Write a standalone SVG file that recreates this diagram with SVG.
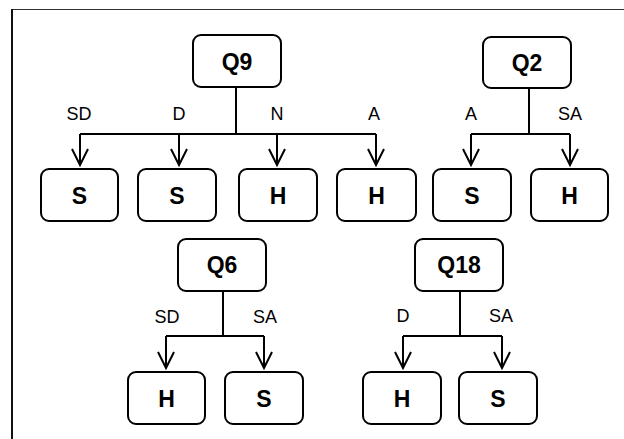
<svg xmlns="http://www.w3.org/2000/svg" width="624" height="439" viewBox="0 0 624 439">
<style>
.box{fill:#fff;stroke:#000;stroke-width:2}
.nt{font-family:"Liberation Sans",Arial,sans-serif;font-weight:bold;font-size:23px;text-anchor:middle}
.lb{font-family:"Liberation Sans",Arial,sans-serif;font-size:18px;text-anchor:middle}
.ln{fill:none;stroke:#000;stroke-width:2}
</style>
<defs>
<path id="ah" d="M-8,-16 L0,0 L8,-16" fill="none" stroke="#000" stroke-width="2"/>
</defs>
<rect width="624" height="439" fill="#fff"/>
<line x1="12" y1="9.5" x2="624" y2="9.5" stroke="#333" stroke-width="1.2"/>
<line x1="12" y1="9" x2="12" y2="439" stroke="#111" stroke-width="2"/>
<g id="connectors">
<path class="ln" d="M236,87 V134 M80,134 H376 M80,134 V165 M179,134 V165 M277,134 V165 M376,134 V165"/>
<use href="#ah" x="80" y="165"/><use href="#ah" x="179" y="165"/><use href="#ah" x="277" y="165"/><use href="#ah" x="376" y="165"/>
<path class="ln" d="M529,88 V134 M471,134 H570 M471,134 V165 M570,134 V165"/>
<use href="#ah" x="471" y="165"/><use href="#ah" x="570" y="165"/>
<path class="ln" d="M223,291 V336 M166,336 H264 M166,336 V368 M264,336 V368"/>
<use href="#ah" x="166" y="368"/><use href="#ah" x="264" y="368"/>
<path class="ln" d="M460,291 V336 M403,336 H502 M403,336 V368 M502,336 V368"/>
<use href="#ah" x="403" y="368"/><use href="#ah" x="502" y="368"/>
<text class="lb" x="79" y="120">SD</text>
<text class="lb" x="179" y="120">D</text>
<text class="lb" x="277" y="120">N</text>
<text class="lb" x="374" y="120">A</text>
<text class="lb" x="471" y="120">A</text>
<text class="lb" x="570" y="120">SA</text>
<text class="lb" x="167" y="323">SD</text>
<text class="lb" x="265" y="323">SA</text>
<text class="lb" x="403" y="322">D</text>
<text class="lb" x="501" y="322">SA</text>
</g>
<g id="Q9"><rect class="box" x="193" y="35" width="88" height="52" rx="8"/><text class="nt" x="237" y="69.5">Q9</text></g>
<g id="Q2"><rect class="box" x="483" y="37" width="88" height="51" rx="8"/><text class="nt" x="527" y="71">Q2</text></g>
<g id="Q6"><rect class="box" x="178" y="239" width="88" height="52" rx="8"/><text class="nt" x="222" y="273">Q6</text></g>
<g id="Q18"><rect class="box" x="415" y="239" width="88" height="52" rx="8"/><text class="nt" x="459" y="273">Q18</text></g>
<g id="L1"><rect class="box" x="41" y="169" width="77" height="52" rx="8"/><text class="nt" x="79.5" y="203.5">S</text></g>
<g id="L2"><rect class="box" x="138" y="169" width="78" height="52" rx="8"/><text class="nt" x="177" y="203.5">S</text></g>
<g id="L3"><rect class="box" x="239" y="169" width="78" height="52" rx="8"/><text class="nt" x="278" y="203.5">H</text></g>
<g id="L4"><rect class="box" x="337" y="169" width="79" height="52" rx="8"/><text class="nt" x="376.5" y="203.5">H</text></g>
<g id="L5"><rect class="box" x="433" y="169" width="78" height="52" rx="8"/><text class="nt" x="472" y="203.5">S</text></g>
<g id="L6"><rect class="box" x="531" y="169" width="77" height="52" rx="8"/><text class="nt" x="569.5" y="203.5">H</text></g>
<g id="L7"><rect class="box" x="128" y="372" width="77" height="52" rx="8"/><text class="nt" x="166.5" y="406.5">H</text></g>
<g id="L8"><rect class="box" x="225" y="372" width="78" height="52" rx="8"/><text class="nt" x="264" y="406.5">S</text></g>
<g id="L9"><rect class="box" x="363" y="372" width="78" height="52" rx="8"/><text class="nt" x="402" y="406.5">H</text></g>
<g id="L10"><rect class="box" x="459" y="372" width="78" height="52" rx="8"/><text class="nt" x="498" y="406.5">S</text></g>
</svg>
